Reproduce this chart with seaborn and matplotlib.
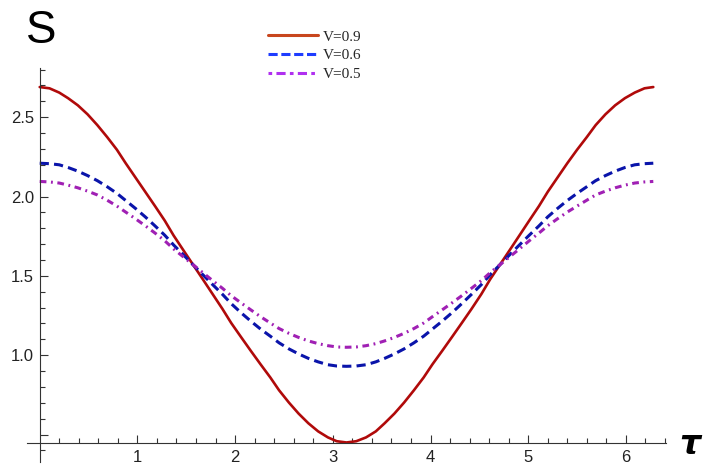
import matplotlib
matplotlib.use("Agg")
import matplotlib.pyplot as plt
import numpy as np
import pandas as pd
import seaborn as sns
from matplotlib.lines import Line2D
from matplotlib.ticker import FixedLocator, MultipleLocator

# tau sampled every pi/32 over one period
tau = [0.00, 0.10, 0.20, 0.29, 0.39, 0.49, 0.59, 0.69, 0.79, 0.88, 0.98, 1.08,
       1.18, 1.28, 1.37, 1.47, 1.57, 1.67, 1.77, 1.87, 1.96, 2.06, 2.16, 2.26,
       2.36, 2.45, 2.55, 2.65, 2.75, 2.85, 2.95, 3.04, 3.14, 3.24, 3.34, 3.44,
       3.53, 3.63, 3.73, 3.83, 3.93, 4.02, 4.12, 4.22, 4.32, 4.42, 4.52, 4.61,
       4.71, 4.81, 4.91, 5.01, 5.11, 5.20, 5.30, 5.40, 5.50, 5.60, 5.69, 5.79,
       5.89, 5.99, 6.09, 6.19, 6.28]

s_v09 = [2.690, 2.682, 2.655, 2.620, 2.575, 2.518, 2.450, 2.375, 2.295, 2.210,
         2.120, 2.030, 1.940, 1.848, 1.755, 1.662, 1.570, 1.478, 1.385, 1.292,
         1.203, 1.115, 1.028, 0.943, 0.860, 0.779, 0.702, 0.632, 0.571, 0.520,
         0.482, 0.458, 0.450, 0.458, 0.482, 0.520, 0.571, 0.632, 0.702, 0.779,
         0.860, 0.943, 1.028, 1.115, 1.203, 1.292, 1.385, 1.478, 1.570, 1.662,
         1.755, 1.848, 1.940, 2.030, 2.120, 2.210, 2.295, 2.375, 2.450, 2.518,
         2.575, 2.620, 2.655, 2.682, 2.690]
s_v06 = [2.210, 2.207, 2.200, 2.183, 2.160, 2.132, 2.100, 2.062, 2.020, 1.975,
         1.925, 1.872, 1.815, 1.756, 1.695, 1.633, 1.570, 1.507, 1.445, 1.384,
         1.325, 1.268, 1.215, 1.165, 1.120, 1.078, 1.040, 1.008, 0.980, 0.958,
         0.940, 0.932, 0.930, 0.932, 0.940, 0.958, 0.980, 1.008, 1.040, 1.078,
         1.120, 1.165, 1.215, 1.268, 1.325, 1.384, 1.445, 1.507, 1.570, 1.633,
         1.695, 1.756, 1.815, 1.872, 1.925, 1.975, 2.020, 2.062, 2.100, 2.132,
         2.160, 2.183, 2.200, 2.207, 2.210]
s_v05 = [2.095, 2.092, 2.085, 2.072, 2.055, 2.034, 2.010, 1.977, 1.940, 1.902,
         1.860, 1.816, 1.770, 1.721, 1.670, 1.620, 1.570, 1.520, 1.470, 1.422,
         1.375, 1.330, 1.286, 1.243, 1.203, 1.168, 1.138, 1.112, 1.090, 1.073,
         1.060, 1.052, 1.050, 1.052, 1.060, 1.073, 1.090, 1.112, 1.138, 1.168,
         1.203, 1.243, 1.286, 1.330, 1.375, 1.422, 1.470, 1.520, 1.570, 1.620,
         1.670, 1.721, 1.770, 1.816, 1.860, 1.902, 1.940, 1.977, 2.010, 2.034,
         2.055, 2.072, 2.085, 2.092, 2.095]

labels = ["V=0.9", "V=0.6", "V=0.5"]
line_colors = ["#B00A0A", "#0A14AA", "#A020B4"]
legend_colors = ["#C8461E", "#1E3CFF", "#B030F0"]
styles = ["-", (0, (3.0, 1.7)), (0, (2.2, 1.5, 0.6, 1.5))]
widths = [1.9, 2.2, 2.2]

sns.set_style("white")
plt.rcParams["font.family"] = ["Liberation Sans", "DejaVu Sans"]

W, H = 705, 467
fig = plt.figure(figsize=(W / 100, H / 100), dpi=100)
ax = fig.add_axes([27 / W, 1 - 462 / H, (666 - 27) / W, (462 - 68) / H])

for vals, col, ls, lw in zip([s_v09, s_v06, s_v05], line_colors, styles, widths):
    sns.lineplot(x=tau, y=vals, color=col, linestyle=ls, lw=lw, sort=False, ax=ax)

ax.set_xlim(-0.13, 6.41)
ax.set_ylim(0.327, 2.81)

axis_col = "#333333"
for side in ("top", "right"):
    ax.spines[side].set_visible(False)
ax.spines["left"].set_position(("data", 0))
ax.spines["bottom"].set_position(("data", 0.447))
for side in ("left", "bottom"):
    ax.spines[side].set_color(axis_col)
    ax.spines[side].set_linewidth(0.8)

ax.xaxis.set_major_locator(FixedLocator([1, 2, 3, 4, 5, 6]))
ax.xaxis.set_minor_locator(FixedLocator(np.arange(0.2, 6.45, 0.2)))
ax.yaxis.set_major_locator(FixedLocator([0.5, 1.0, 1.5, 2.0, 2.5]))
ax.yaxis.set_minor_locator(MultipleLocator(0.1))
ax.set_yticklabels(["", "1.0", "1.5", "2.0", "2.5"])
ax.set_xticklabels(["1", "2", "3", "4", "5", "6"])
ax.tick_params(which="both", direction="in", color=axis_col, width=0.8,
               bottom=True, left=True, labelsize=12, labelcolor="#222222")
ax.tick_params(which="major", length=5.8)
ax.tick_params(which="minor", length=3.3)
ax.tick_params(axis="x", pad=5)
ax.tick_params(axis="y", pad=4)
ax.set_xlabel("")
ax.set_ylabel("")

fig.text(26 / W, 1 - 43 / H, "S", fontsize=33, family="Liberation Sans",
         color="black", ha="left", va="baseline")
fig.text(690 / W, 1 - 445 / H, "τ", fontsize=24, family="DejaVu Sans",
         color="black", fontweight="bold", fontstyle="italic",
         ha="center", va="center")

handles = [Line2D([], [], color=c, linestyle=ls, lw=2.2)
           for c, ls in zip(legend_colors, ["-", (0, (3.0, 1.2)), (0, (1.2, 1.4, 3.0, 1.4))])]
ax.legend(handles, labels, loc="upper left", bbox_to_anchor=(268 / W, 1 - 30 / H),
          bbox_transform=fig.transFigure, frameon=False, borderpad=0,
          borderaxespad=0, handlelength=3.3, handletextpad=0.3, labelspacing=0.33,
          prop={"family": "Liberation Serif", "size": 11})

fig.savefig("out.png", dpi=100, facecolor="white")
